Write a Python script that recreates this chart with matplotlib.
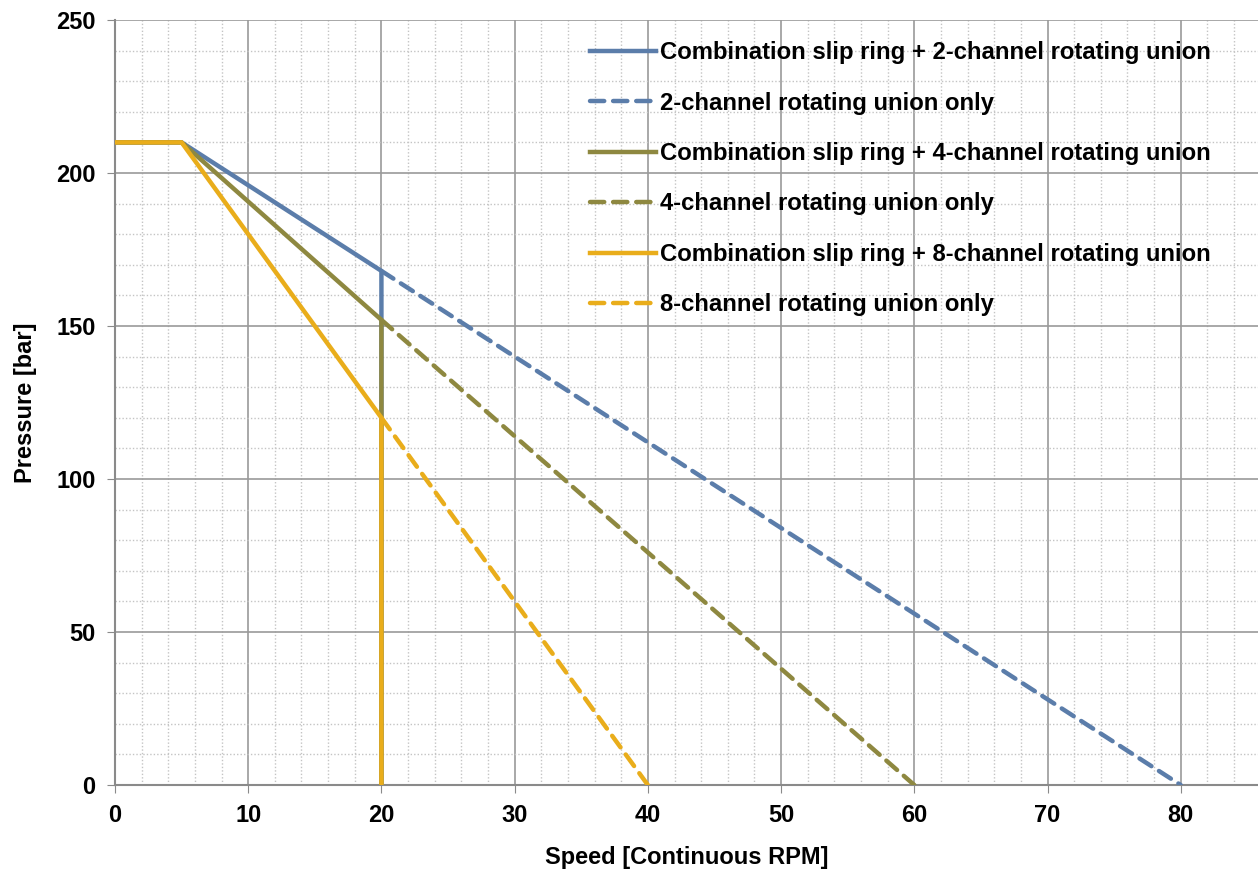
import numpy as np
import matplotlib as mpl
import matplotlib.pyplot as plt
from matplotlib.ticker import MultipleLocator

plt.rcParams['font.family'] = ['Liberation Sans', 'DejaVu Sans']
plt.rcParams['font.weight'] = 'bold'

# combination curves (slip ring + rotating union)
combo_x = [0, 5, 20, 20]
combo2_y = [210, 210, 168, 0]
combo4_y = [210, 210, 152, 0]
combo8_y = [210, 210, 120, 0]

# rotating union only
only2_x = [20, 80]
only2_y = [168, 0]
only4_x = [20, 60]
only4_y = [152, 0]
only8_x = [20, 40]
only8_y = [120, 0]

labels = ['Combination slip ring + 2-channel rotating union',
          '2-channel rotating union only',
          'Combination slip ring + 4-channel rotating union',
          '4-channel rotating union only',
          'Combination slip ring + 8-channel rotating union',
          '8-channel rotating union only']

blue = '#5B7DAA'
olive = '#8E8840'
yellow = '#E9AD1B'

fig = plt.figure(figsize=(12.58, 8.73), dpi=100)
ax = fig.add_axes([0.0914, 0.1008, 0.9086, 0.8763])

lw = 3.2
dash = dict(linestyle=(0, (3.2, 2.0)), dash_capstyle='round')
ax.plot(combo_x, combo2_y, color=blue, lw=lw, label=labels[0], zorder=3)
ax.plot(only2_x, only2_y, color=blue, lw=lw, label=labels[1], zorder=3, **dash)
ax.plot(combo_x, combo4_y, color=olive, lw=lw, label=labels[2], zorder=4)
ax.plot(only4_x, only4_y, color=olive, lw=lw, label=labels[3], zorder=4, **dash)
ax.plot(combo_x, combo8_y, color=yellow, lw=lw, label=labels[4], zorder=5)
ax.plot(only8_x, only8_y, color=yellow, lw=lw, label=labels[5], zorder=5, **dash)

ax.set_xlim(0, 85.8)
ax.set_ylim(0, 250)
ax.xaxis.set_major_locator(MultipleLocator(10))
ax.xaxis.set_minor_locator(MultipleLocator(2))
ax.yaxis.set_major_locator(MultipleLocator(50))
ax.yaxis.set_minor_locator(MultipleLocator(10))

ax.grid(which='major', color='#9a9a9a', lw=1.2)
ax.grid(which='minor', color='#c4c4c4', lw=1.0, linestyle=(0, (1, 1.5)))
ax.set_axisbelow(True)

for s in ['top', 'right']:
    ax.spines[s].set_visible(False)
for s in ['left', 'bottom']:
    ax.spines[s].set_color('#8a8a8a')
    ax.spines[s].set_linewidth(1.5)

ax.tick_params(which='major', direction='out', length=6, color='#8a8a8a',
               labelsize=17, pad=8)
ax.tick_params(which='minor', length=0)

ax.set_xlabel('Speed [Continuous RPM]', fontsize=17, fontweight='bold', labelpad=13)
ax.set_ylabel('Pressure [bar]', fontsize=17, fontweight='bold', labelpad=14)

leg = ax.legend(loc='upper left', bbox_to_anchor=(0.4156, 0.9725), frameon=False,
                fontsize=17.2, handlelength=2.75, handletextpad=0.2,
                labelspacing=1.15, borderpad=0, borderaxespad=0)

fig.savefig('out.png', dpi=100)
